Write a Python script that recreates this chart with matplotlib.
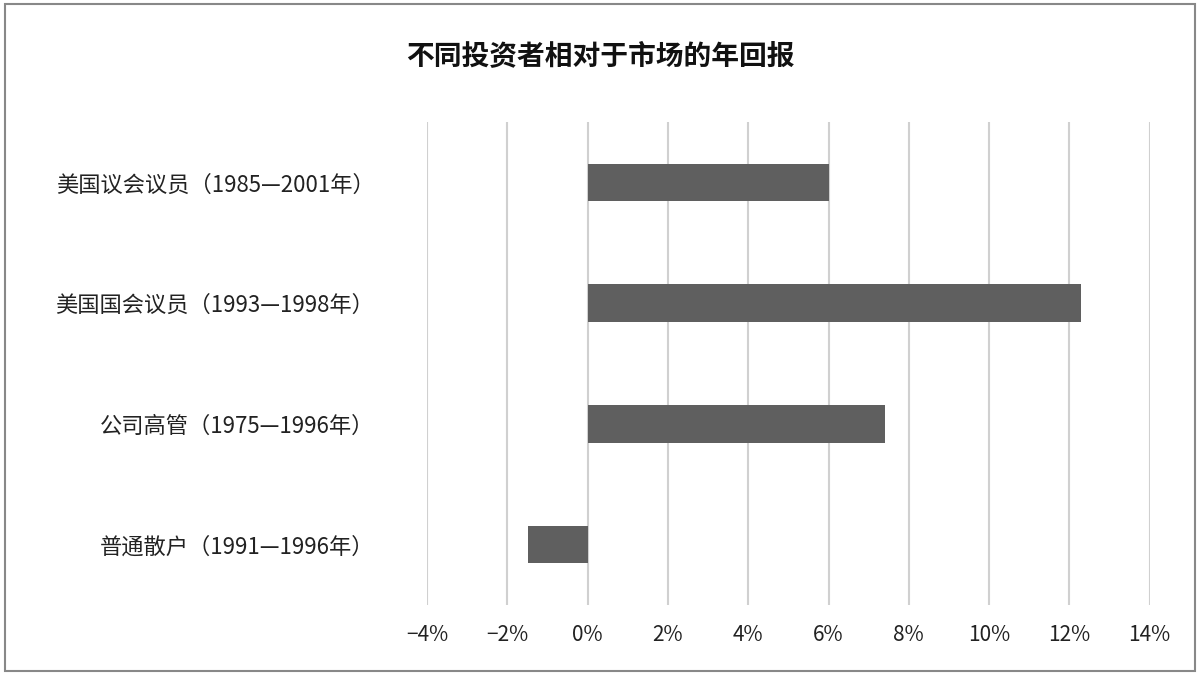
import matplotlib
matplotlib.use("Agg")
import matplotlib.pyplot as plt
from matplotlib.patches import Rectangle

plt.rcParams['font.family'] = ['Noto Sans CJK SC', 'DejaVu Sans']

categories = ["美国议会议员（1985—2001年）", "美国国会议员（1993—1998年）",
              "公司高管（1975—1996年）", "普通散户（1991—1996年）"]
values = [6.0, 12.3, 7.4, -1.5]
xticks = [-4, -2, 0, 2, 4, 6, 8, 10, 12, 14]
title = "不同投资者相对于市场的年回报"

fig = plt.figure(figsize=(12, 6.75), dpi=100)
ax = fig.add_axes([0.356, 0.104, 0.602, 0.715])
pos = list(range(len(categories)))[::-1]
ax.barh(pos, values, height=0.31, color="#5f5f5f", zorder=3)
ax.set_xlim(-4, 14)
ax.set_ylim(-0.5, 3.5)
ax.set_xticks(xticks)
ax.set_xticklabels([f"{t}%".replace("-", "−") for t in xticks], fontsize=15, color="#222222")
ax.set_yticks(pos)
ax.set_yticklabels(categories, fontsize=16, color="#222222")
ax.tick_params(length=0, pad=14)
ax.tick_params(axis='y', pad=38)
ax.grid(axis='x', color="#d0d0d0", linewidth=1.5, zorder=0)
for s in ax.spines.values():
    s.set_visible(False)
fig.text(0.5, 0.915, title, ha='center', va='center', fontsize=20, fontweight='bold', color="#111111")
fig.patches.append(Rectangle((0.004, 0.006), 0.992, 0.988, transform=fig.transFigure,
                             fill=False, edgecolor="#888888", linewidth=1.5))
fig.savefig("out.png", dpi=100)
